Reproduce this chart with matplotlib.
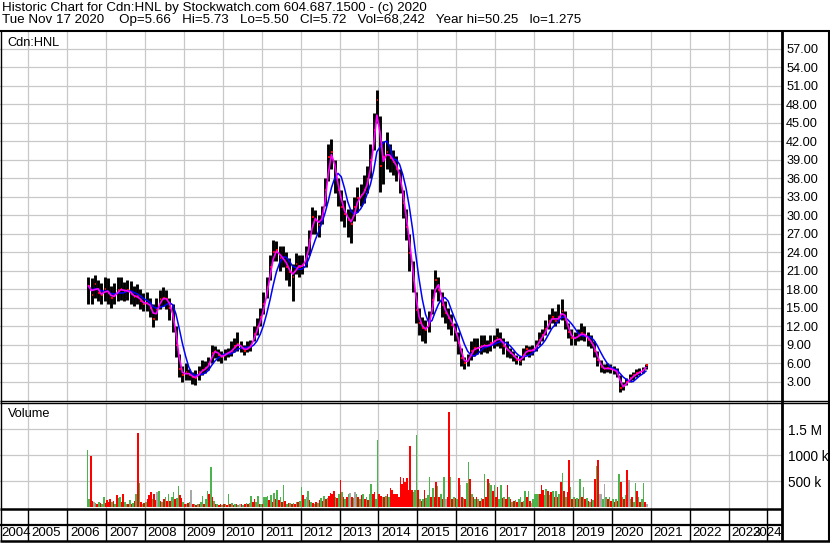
import numpy as np
import pandas as pd
import matplotlib
matplotlib.use("Agg")
import matplotlib.pyplot as plt

plt.rcParams['font.family'] = ['Liberation Sans', 'DejaVu Sans']

# ---------------- data ----------------
# monthly price bars, Jul 2006 .. Nov 2020
close = [
    18.5, 17.0, 18.8, 17.3, 17.0, 18.0,                                   # 2006 Jul-Dec
    17.3, 16.6, 17.0, 17.8, 18.0, 17.6, 17.8, 17.2, 16.7, 16.8, 16.0, 15.6,  # 2007
    15.8, 15.0, 13.2, 14.8, 16.3, 16.5, 16.4, 15.0, 13.0, 9.0, 5.0, 4.0,     # 2008
    4.5, 4.1, 3.7, 3.6, 4.5, 4.8, 5.2, 5.8, 7.7, 8.0, 7.3, 6.9,              # 2009
    7.5, 7.7, 8.0, 8.8, 9.1, 8.5, 8.0, 8.5, 8.8, 10.7, 11.8, 13.4,           # 2010
    15.6, 18.3, 21.6, 24.0, 24.3, 23.0, 23.0, 21.6, 20.8, 20.0, 22.0, 21.5,  # 2011
    21.9, 23.2, 25.9, 29.7, 29.2, 28.4, 30.2, 34.0, 39.4, 40.2, 36.2, 34.0,  # 2012
    31.3, 30.2, 29.2, 28.6, 31.3, 32.7, 33.2, 34.0, 35.9, 38.9, 43.8, 48.6,  # 2013
    38.0, 39.4, 40.2, 39.2, 38.6, 37.5, 35.6, 31.9, 28.1, 23.8, 19.4, 14.6,  # 2014
    12.5, 11.6, 11.4, 12.7, 16.2, 19.5, 17.9, 15.4, 14.1, 13.3, 12.2, 11.1,  # 2015
    9.2, 6.8, 6.0, 6.5, 7.9, 8.4, 8.4, 8.7, 8.9, 8.7, 9.2, 9.5,              # 2016
    10.0, 9.8, 8.7, 8.1, 7.6, 7.1, 6.5, 6.4, 7.3, 8.2, 7.9, 8.1,             # 2017
    8.8, 9.8, 10.5, 11.5, 12.8, 13.5, 12.8, 13.5, 14.5, 13.0, 11.0, 10.0,    # 2018
    10.0, 10.5, 10.8, 10.5, 9.8, 9.3, 8.0, 6.5, 5.3, 5.0, 5.2, 5.0,          # 2019
    4.8, 4.5, 2.0, 2.3, 3.0, 3.5, 4.0, 4.3, 4.6, 4.8, 5.72,                  # 2020 Jan-Nov
]
high = [
    20.0, 19.8, 20.3, 19.5, 19.0, 20.0,
    19.8, 18.5, 19.0, 20.0, 20.0, 19.2, 19.5, 19.3, 18.5, 18.8, 18.0, 17.3,
    17.5, 16.5, 15.5, 16.5, 17.8, 18.3, 17.8, 16.5, 15.5, 12.0, 7.5, 5.5,
    6.0, 5.0, 4.5, 4.8, 5.5, 6.5, 6.3, 7.0, 9.0, 8.8, 8.3, 8.0,
    8.3, 8.5, 9.5, 10.0, 11.0, 9.5, 9.0, 9.5, 9.8, 12.0, 13.3, 15.0,
    17.5, 20.0, 23.5, 26.0, 25.8, 25.0, 25.0, 24.0, 23.0, 22.0, 23.8, 23.5,
    23.5, 25.0, 27.5, 31.3, 30.8, 30.0, 31.5, 36.0, 41.5, 42.4, 39.0, 36.0,
    34.0, 32.5, 31.0, 31.0, 33.0, 34.5, 35.0, 36.5, 38.0, 41.5, 46.5, 50.2,
    46.0, 42.0, 43.5, 41.5, 40.5, 39.5, 37.5, 34.0, 31.0, 27.0, 22.5, 17.5,
    15.0, 13.5, 13.0, 14.5, 18.0, 21.1, 20.0, 17.5, 16.0, 15.0, 14.0, 12.5,
    11.0, 8.5, 7.0, 7.5, 9.5, 10.0, 10.0, 10.5, 10.5, 9.8, 10.5, 10.5,
    11.6, 11.0, 10.0, 9.5, 8.5, 8.0, 7.3, 7.2, 8.5, 9.0, 8.8, 9.0,
    9.8, 11.0, 11.5, 13.0, 14.0, 15.0, 14.5, 15.5, 16.3, 14.5, 12.5, 11.5,
    11.0, 11.5, 12.5, 12.0, 11.0, 10.5, 9.5, 8.0, 6.5, 5.8, 6.0, 5.8,
    5.5, 5.2, 4.0, 3.0, 3.6, 4.2, 4.6, 5.0, 5.2, 5.4, 5.9,
]
low = [
    15.5, 15.5, 16.5, 16.0, 15.5, 16.0,
    15.5, 15.0, 15.5, 16.0, 16.2, 16.0, 16.2, 15.5, 15.3, 15.5, 14.8, 14.4,
    14.5, 13.5, 11.9, 13.0, 14.8, 15.3, 14.8, 13.0, 11.0, 7.0, 3.8, 3.0,
    3.3, 3.2, 2.6, 2.5, 3.3, 4.0, 4.3, 4.8, 6.0, 6.8, 6.3, 6.0,
    6.5, 7.0, 7.2, 7.8, 8.0, 7.8, 7.3, 7.8, 8.0, 9.5, 10.5, 12.0,
    14.0, 16.5, 19.5, 22.5, 22.5, 21.0, 21.5, 19.5, 18.5, 16.0, 20.5, 20.0,
    20.5, 21.5, 23.5, 27.0, 27.0, 26.5, 28.5, 31.5, 35.5, 37.5, 33.5, 31.5,
    29.0, 28.0, 26.5, 25.4, 29.0, 30.5, 31.5, 32.0, 33.5, 36.0, 40.5, 45.0,
    33.8, 35.0, 37.5, 37.0, 36.5, 35.5, 33.5, 29.5, 26.0, 21.0, 17.5, 12.5,
    10.5, 9.5, 9.2, 11.0, 14.0, 17.5, 16.0, 13.5, 12.5, 11.5, 10.5, 9.5,
    7.5, 5.5, 5.0, 5.5, 6.5, 7.2, 7.5, 7.5, 7.8, 7.6, 8.0, 8.5,
    8.8, 8.5, 7.5, 7.0, 6.8, 6.3, 5.8, 5.7, 6.5, 7.3, 7.0, 7.3,
    8.0, 9.0, 9.5, 10.5, 11.5, 12.5, 12.0, 12.5, 13.0, 11.5, 10.0, 9.0,
    9.0, 9.5, 9.8, 9.5, 8.8, 8.5, 7.0, 5.5, 4.5, 4.3, 4.5, 4.3,
    4.2, 3.8, 1.3, 1.6, 2.5, 3.0, 3.3, 3.8, 4.0, 4.3, 5.0,
]

# half-monthly volume (thousands) and colour code (g=up, r=down, k=unchanged)
vol_2006 = [1100, 150, 990, 120, 100, 80, 60, 90, 70, 60, 190, 80]
col_2006 = "ggrrkgrgrggr"
vol_2007 = [130, 100, 160, 90, 120, 60, 230, 180, 190, 100, 250, 90, 50, 60, 130, 60, 80, 120, 250, 1420, 460, 100, 60, 80]
col_2007 = "rrrgrgrggrrggrgrgrgrgrgr"
vol_2008 = [100, 150, 240, 280, 150, 260, 140, 280, 300, 120, 90, 150, 200, 110, 250, 120, 200, 290, 150, 180, 400, 230, 170, 100]
col_2008 = "grrrgrrkgrgrgrgrggrggrrg"
vol_2009 = [60, 50, 70, 90, 330, 60, 50, 40, 60, 50, 90, 220, 60, 150, 300, 250, 760, 200, 120, 60, 50, 40, 60, 40]
col_2009 = "rgrgkrgrgrggrggrgrgrgrrg"
vol_2010 = [50, 60, 40, 260, 60, 80, 40, 50, 60, 40, 50, 60, 40, 50, 80, 60, 70, 220, 90, 160, 100, 220, 60, 50]
col_2010 = "rgrgrgrgrgkrgrgrggrrggrg"
vol_2011 = [60, 190, 200, 210, 130, 230, 90, 270, 150, 320, 140, 200, 100, 430, 120, 60, 70, 80, 60, 80, 60, 90, 100, 120]
col_2011 = "rgggrgrgrgrgrgrgrgrgrgrg"
vol_2012 = [390, 230, 150, 200, 300, 130, 100, 80, 60, 100, 80, 130, 170, 120, 210, 150, 180, 220, 270, 250, 300, 200, 170, 250]
col_2012 = "grgkgrgrgrgrgrgrgrrrrgrg"
vol_2013 = [525, 290, 200, 150, 200, 250, 270, 200, 180, 290, 250, 200, 150, 230, 260, 150, 200, 130, 250, 440, 250, 290, 150, 1280]
col_2013 = "rgrgrgkrgkgrgrgrgrggrrgg"
vol_2014 = [250, 220, 200, 190, 220, 250, 190, 360, 330, 250, 260, 250, 200, 580, 450, 550, 480, 560, 330, 1170, 320, 280, 330, 1380]
col_2014 = "rrgrgrgrrrrrrrrrrrrrrggg"
vol_2015 = [330, 150, 110, 150, 320, 170, 240, 580, 200, 370, 200, 480, 410, 200, 250, 150, 580, 150, 200, 1830, 580, 150, 200, 180]
col_2015 = "rgrgrgggrgrrgrgrgkrrgrgr"
vol_2016 = [150, 550, 420, 200, 180, 150, 470, 870, 530, 250, 200, 150, 200, 150, 120, 180, 150, 640, 200, 530, 470, 420, 300, 420]
col_2016 = "grkrgrggrgrgrgrgrgrrggrg"
vol_2017 = [200, 380, 150, 430, 180, 200, 150, 430, 200, 150, 100, 120, 130, 100, 150, 200, 100, 120, 300, 200, 300, 120, 80, 150]
col_2017 = "rrggrgrrgrgrgrggrggrgrkg"
vol_2018 = [250, 250, 260, 250, 420, 330, 240, 350, 300, 240, 290, 310, 200, 300, 200, 250, 480, 650, 300, 200, 290, 910, 380, 150]
col_2018 = "gggrrrggrgrgrgrgrgrgrrgr"
vol_2019 = [200, 150, 180, 150, 530, 200, 380, 150, 180, 120, 100, 150, 130, 530, 780, 900, 250, 250, 150, 440, 200, 150, 200, 120]
col_2019 = "grgrgrgrgrgrgrgrkkgkgrgr"
vol_2020 = [150, 100, 150, 120, 630, 490, 200, 150, 230, 710, 510, 150, 200, 100, 470, 300, 200, 100, 150, 460, 100, 60]
col_2020 = "grgrgrgrgrkgrggrgrggrk"

price_ticks = [3, 6, 9, 12, 15, 18, 21, 24, 27, 30, 33, 36, 39, 42, 45, 48, 51, 54, 57]
vol_ticks = [500, 1000, 1500]
vol_tick_labels = ["500 k", "1000 k", "1.5 M"]
year_labels = list(range(2004, 2025))

title1 = "Historic Chart for Cdn:HNL by Stockwatch.com 604.687.1500 - (c) 2020"
title2 = ("Tue Nov 17 2020    Op=5.66   Hi=5.73   Lo=5.50   Cl=5.72   "
          "Vol=68,242   Year hi=50.25   lo=1.275")

# ---------------- derived ----------------
start = 2006.5
mx = start + (np.arange(len(close)) + 0.5) / 12.0
cs = pd.Series(close)
ma_short = cs.rolling(2, min_periods=1).mean()
ma_long = cs.rolling(5, min_periods=1).mean()

vols = (vol_2006 + vol_2007 + vol_2008 + vol_2009 + vol_2010 + vol_2011 + vol_2012 +
        vol_2013 + vol_2014 + vol_2015 + vol_2016 + vol_2017 + vol_2018 + vol_2019 + vol_2020)
cols = (col_2006 + col_2007 + col_2008 + col_2009 + col_2010 + col_2011 + col_2012 +
        col_2013 + col_2014 + col_2015 + col_2016 + col_2017 + col_2018 + col_2019 + col_2020)
cmap = {'g': '#4db34d', 'r': '#ff0000', 'k': '#a8a8a8'}
vx = start + (np.arange(len(vols)) + 0.5) / 24.0
vc = [cmap[c] for c in cols]

# ---------------- layout ----------------
W, H = 830, 543
fig = plt.figure(figsize=(W / 100, H / 100), dpi=100)
fig.patch.set_facecolor('white')


def rect(x0, y0, x1, y1):
    return [x0 / W, 1 - y1 / H, (x1 - x0) / W, (y1 - y0) / H]


XMIN, XMAX = 2004.27, 2024.373
GRID = '#c8c8c8'
FS = 9.2

axp = fig.add_axes(rect(0, 31, 782, 401))
axv = fig.add_axes(rect(0, 403, 782, 509))
axy = fig.add_axes(rect(0, 509, 782, 541))

for ax in (axp, axv, axy):
    ax.set_xlim(XMIN, XMAX)
    for s in ax.spines.values():
        s.set_visible(False)
    ax.set_xticks(range(2005, 2025))
    ax.tick_params(axis='x', length=0, labelbottom=False)

# price panel
axp.set_ylim(-0.16, 59.84)
axp.set_yticks(price_ticks)
axp.set_yticklabels([f"{v:.2f}" for v in price_ticks])
axp.yaxis.tick_right()
axp.tick_params(axis='y', length=0, pad=3, labelsize=FS)
axp.grid(True, color=GRID, lw=0.9)
axp.set_axisbelow(True)
axp.vlines(mx, low, high, color='black', lw=2.1, zorder=2)
axp.hlines(close, mx, mx + 0.5 / 12, color='red', lw=1.5, zorder=3)
axp.plot(mx, ma_long, color='#0000ff', lw=1.1, zorder=4)
axp.plot(mx, ma_short, color='#ff00ff', lw=1.2, zorder=5)
axp.text(0.010, 0.967, "Cdn:HNL", transform=axp.transAxes, fontsize=FS,
         ha='left', va='center')

# volume panel
axv.set_ylim(-38, 2000)
axv.set_yticks(vol_ticks)
axv.set_yticklabels(vol_tick_labels)
axv.yaxis.tick_right()
axv.tick_params(axis='y', length=0, pad=4, labelsize=FS + 0.6)
axv.grid(True, color=GRID, lw=0.9)
axv.set_axisbelow(True)
axv.bar(vx, vols, width=1.0 / 24, color=vc, linewidth=0, antialiased=False, zorder=2)
axv.text(0.010, 0.9, "Volume", transform=axv.transAxes, fontsize=FS,
         ha='left', va='center')

# year row
axy.set_ylim(0, 2)
axy.set_yticks([])
axy.vlines(range(2005, 2025), 0, 2, color='black', lw=1.0)
axy.axhline(1, color='black', lw=1.6)
for yr in year_labels:
    xc = yr + 0.45
    if yr == year_labels[0]:
        axy.text(XMIN + 0.03, 0.5, str(yr), ha='left', va='center', fontsize=FS + 0.4)
    elif yr == year_labels[-1]:
        axy.text(XMAX - 0.01, 0.5, str(yr), ha='right', va='center', fontsize=FS + 0.4)
    else:
        axy.text(xc, 0.5, str(yr), ha='center', va='center', fontsize=FS + 0.4)

# frame overlay
ov = fig.add_axes([0, 0, 1, 1], zorder=10)
ov.set_xlim(0, W)
ov.set_ylim(H, 0)
ov.axis('off')
ov.patch.set_alpha(0)
k = dict(color='black', solid_capstyle='butt')
ov.plot([0, W], [31, 31], lw=1.5, **k)
ov.plot([0.5, 0.5], [31, 541], lw=1.0, **k)
ov.plot([828.5, 828.5], [31, 541], lw=1.5, **k)
ov.plot([782, 782], [31, 541], lw=2.0, **k)
ov.plot([0, W], [400.5, 400.5], lw=1.0, **k)
ov.plot([0, W], [403, 403], lw=1.0, **k)
ov.plot([0, 782], [509, 509], lw=1.8, **k)
ov.plot([0, W], [541, 541], lw=1.8, **k)

fig.text(2 / W, 1 - 7.5 / H, title1, fontsize=9.6, ha='left', va='center')
fig.text(2 / W, 1 - 20.5 / H, title2, fontsize=9.6, ha='left', va='center')

fig.savefig("out.png", dpi=100)
